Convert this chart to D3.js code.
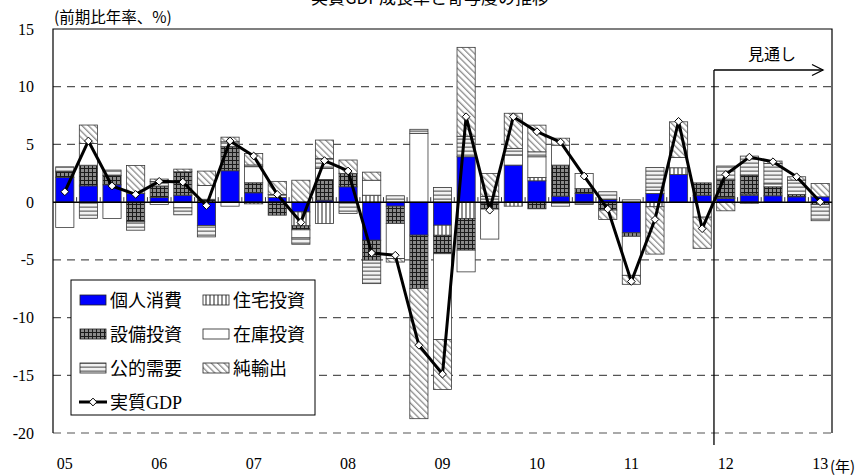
<!DOCTYPE html>
<html>
<head>
<meta charset="utf-8">
<script src="https://cdn.jsdelivr.net/npm/d3@7"></script>
<style>
  body { margin: 0; background: #fff; }
  text { font-family: "Liberation Serif", "Noto Sans CJK JP", serif; }
  .jp { font-family: "Noto Sans CJK JP", sans-serif; }
</style>
</head>
<body>
<svg id="chart" width="863" height="475"></svg>
<script>
// Quarterly contributions to real GDP growth (annualised q/q, %), 2005Q1 - 2013Q1
const quarters = d3.range(33).map(i => `${String(5 + Math.floor(i / 4)).padStart(2, "0")}Q${i % 4 + 1}`);
const yearLabels = ["05", "06", "07", "08", "09", "10", "11", "12", "13"];
const yTicks = [15, 10, 5, 0, -5, -10, -15, -20];

const personal  = [2.14,1.41,1.5,0.75,0.4,0.6,-2.03,2.72,0.81,0.4,-0.85,0.17,1.33,-3.3,-0.35,-2.86,-2.0,3.93,-0.1,3.21,1.85,0.52,0.75,0.23,-2.66,0.75,2.4,0.6,0.32,0.6,0.55,0.46,0.46];
const housing   = [0,0,0,0,0,0,0,0,-0.15,0,-1.2,-1.85,0,0.6,0,0,-0.87,-1.41,0,-0.35,0.29,0,0,0,0,-0.4,0.58,0,0.1,0.1,0,0,0];
const capex     = [0.5,1.79,0.8,-1.7,1.0,2.03,0.25,2.08,0.87,-1.13,-0.35,1.8,1.16,-1.73,-1.5,-4.62,-1.6,-2.75,-0.5,0,-0.58,2.69,0.43,-0.69,-0.3,0,0,1.07,1.5,1.64,0.78,0.2,-0.2];
const inventory = [-2.2,1.88,-1.42,0,-0.2,-0.5,1.2,-0.35,1.39,0,-0.7,0.95,0,1.3,-3.04,5.96,-7.43,-1.88,-2.6,0.87,1.79,1.73,1.3,0,-3.38,0.29,0.9,-1.3,0,0,0.25,0,0];
const publicDem = [0.42,-1.4,0.48,-0.73,0.4,-0.6,-0.98,0.43,0.15,0.26,-0.55,0.87,-0.98,-2.03,0.55,0.35,1.27,1.78,0.5,0.58,0.43,-0.35,-0.2,0.67,0.2,1.96,0,0,1.21,1.65,1.78,1.25,-1.41];
const netExport = [0,1.6,0,2.43,0.2,0.23,1.24,0.4,1.0,1.14,1.9,1.59,1.16,0.7,-0.3,-11.28,-4.34,7.7,1.99,3.04,2.31,0.6,0,-0.81,-0.78,-4.1,3.08,-2.7,-0.75,-0.1,0.2,0.29,1.16];
const gdp       = [0.9,5.3,1.4,0.67,1.8,1.74,-0.3,5.3,4.0,0.67,-1.75,3.6,2.7,-4.4,-4.6,-12.4,-14.9,7.4,-0.7,7.4,6.1,5.2,2.26,-0.6,-6.87,-1.5,7.0,-2.3,2.4,3.9,3.5,2.2,0.03];
const forecastStart = "12Q1";

const seriesNames = ["個人消費", "住宅投資", "設備投資", "在庫投資", "公的需要", "純輸出"];
const seriesKeys  = ["personal", "housing", "capex", "inventory", "publicDem", "netExport"];
const seriesData  = [personal, housing, capex, inventory, publicDem, netExport];

const table = quarters.map((q, i) => {
  const row = { q };
  seriesKeys.forEach((k, j) => row[k] = seriesData[j][i]);
  return row;
});

const svg = d3.select("#chart");
const plotLeft = 53, plotRight = 832, plotTop = 29, plotBottom = 433;

const x = d3.scaleBand().domain(quarters).range([plotLeft, plotRight]).paddingInner(0.23).paddingOuter(0.115);
const y = d3.scaleLinear().domain([-20, 15]).range([plotBottom, plotTop]);

// fill patterns for each component
const defs = svg.append("defs");
function pat(id, w, h, build, transform) {
  const p = defs.append("pattern").attr("id", id).attr("patternUnits", "userSpaceOnUse")
    .attr("width", w).attr("height", h);
  if (transform) p.attr("patternTransform", transform);
  build(p);
}
pat("p-housing", 4, 4, p => {
  p.append("rect").attr("width", 4).attr("height", 4).attr("fill", "#fff");
  p.append("rect").attr("x", 1.5).attr("width", 1).attr("height", 4).attr("fill", "#222");
});
pat("p-capex", 4, 4, p => {
  p.append("rect").attr("width", 4).attr("height", 4).attr("fill", "#8a8a8a");
  p.append("rect").attr("width", 4).attr("height", 1).attr("fill", "#1a1a1a");
  p.append("rect").attr("width", 1).attr("height", 4).attr("fill", "#1a1a1a");
});
pat("p-public", 4, 4, p => {
  p.append("rect").attr("width", 4).attr("height", 4).attr("fill", "#f2f2f2");
  p.append("rect").attr("y", 2.5).attr("width", 4).attr("height", 1.3).attr("fill", "#6e6e6e");
});
pat("p-net", 4.5, 4.5, p => {
  p.append("rect").attr("width", 4.5).attr("height", 4.5).attr("fill", "#fff");
  p.append("rect").attr("width", 1.3).attr("height", 4.5).attr("fill", "#8c8c8c");
}, "rotate(-45)");

const fills = {
  personal: "#0000ff",
  housing: "url(#p-housing)",
  capex: "url(#p-capex)",
  inventory: "#ffffff",
  publicDem: "url(#p-public)",
  netExport: "url(#p-net)"
};

// gridlines
svg.append("g").selectAll("line").data(yTicks.filter(v => v !== 0 && v !== 15)).join("line")
  .attr("x1", plotLeft).attr("x2", plotRight).attr("y1", d => y(d)).attr("y2", d => y(d))
  .attr("stroke", "#555").attr("stroke-width", 1.2).attr("stroke-dasharray", "8,6");

// stacked bars
const stack = d3.stack().keys(seriesKeys).offset(d3.stackOffsetDiverging);
const layers = stack(table);
svg.append("g").selectAll("g").data(layers).join("g")
  .attr("fill", d => fills[d.key])
  .selectAll("rect").data(d => d).join("rect")
  .attr("x", d => x(d.data.q))
  .attr("width", x.bandwidth())
  .attr("y", d => y(Math.max(d[0], d[1])))
  .attr("height", d => Math.abs(y(d[0]) - y(d[1])))
  .attr("stroke", "#3a3a3a").attr("stroke-width", 0.8);

// frame: top, left, right borders
svg.append("path")
  .attr("d", `M${plotLeft},${plotBottom}V${plotTop}H${plotRight}V${plotBottom}`)
  .attr("fill", "none").attr("stroke", "#000").attr("stroke-width", 1.2);

// zero line with category ticks
svg.append("line").attr("x1", plotLeft).attr("x2", plotRight).attr("y1", y(0)).attr("y2", y(0))
  .attr("stroke", "#000").attr("stroke-width", 1.5);
const halfGap = (x.step() - x.bandwidth()) / 2;
svg.append("g").selectAll("line").data(quarters.slice(1)).join("line")
  .attr("x1", d => x(d) - halfGap).attr("x2", d => x(d) - halfGap)
  .attr("y1", y(0) - 5).attr("y2", y(0))
  .attr("stroke", "#333").attr("stroke-width", 1);

// y-axis labels
svg.append("g").selectAll("text").data(yTicks).join("text")
  .attr("x", 34).attr("y", d => y(d) + 5.5)
  .attr("text-anchor", "end").attr("font-size", 16).text(d => d);

// x-axis year labels at the first quarter of each year
svg.append("g").selectAll("text").data(yearLabels).join("text")
  .attr("x", (d, i) => x(quarters[i * 4]) + x.bandwidth() / 2)
  .attr("y", 469).attr("text-anchor", "middle").attr("font-size", 16).text(d => d);
svg.append("text").attr("class", "jp").attr("x", 830).attr("y", 472)
  .attr("font-size", 15).text("(年)");

// unit label
svg.append("text").attr("class", "jp").attr("x", 54).attr("y", 23)
  .attr("font-size", 15.5).text("(前期比年率、%)");

// partially visible heading
svg.append("text").attr("class", "jp").attr("x", 430).attr("y", 4)
  .attr("text-anchor", "middle").attr("font-size", 17).text("実質GDP成長率と寄与度の推移");

// forecast divider and arrow
const xf = x(forecastStart) - halfGap;
svg.append("line").attr("x1", xf).attr("x2", xf).attr("y1", 70).attr("y2", 445)
  .attr("stroke", "#000").attr("stroke-width", 1.3);
svg.append("line").attr("x1", xf).attr("x2", 823).attr("y1", 70).attr("y2", 70)
  .attr("stroke", "#000").attr("stroke-width", 1.3);
svg.append("path").attr("d", "M812,64.5L823,70L812,75.5")
  .attr("fill", "none").attr("stroke", "#000").attr("stroke-width", 1.3);
svg.append("text").attr("class", "jp").attr("x", 772).attr("y", 60)
  .attr("text-anchor", "middle").attr("font-size", 16).text("見通し");

// GDP line with diamond markers
const cx = q => x(q) + x.bandwidth() / 2;
svg.append("path").datum(gdp)
  .attr("d", d3.line().x((d, i) => cx(quarters[i])).y(d => y(d)))
  .attr("fill", "none").attr("stroke", "#000").attr("stroke-width", 3).attr("stroke-linejoin", "round");
const diamond = d3.symbol().type(d3.symbolDiamond2).size(38);
svg.append("g").selectAll("path").data(gdp).join("path")
  .attr("transform", (d, i) => `translate(${cx(quarters[i])},${y(d)})`)
  .attr("d", diamond).attr("fill", "#fff").attr("stroke", "#000").attr("stroke-width", 1);

// legend
const lg = svg.append("g");
lg.append("rect").attr("x", 71).attr("y", 280).attr("width", 244).attr("height", 135)
  .attr("fill", "#fff").attr("stroke", "#000").attr("stroke-width", 1);
const rowsY = [300, 334, 368];
seriesKeys.forEach((k, j) => {
  const col = j % 2, row = Math.floor(j / 2);
  const sx = col === 0 ? 80 : 203;
  lg.append("rect").attr("x", sx).attr("y", rowsY[row] - 5).attr("width", 26).attr("height", 10)
    .attr("fill", fills[k]).attr("stroke", "#222").attr("stroke-width", 0.8);
  lg.append("text").attr("class", "jp").attr("x", sx + 30).attr("y", rowsY[row] + 6.5)
    .attr("font-size", 18).text(seriesNames[j]);
});
lg.append("line").attr("x1", 79).attr("x2", 107).attr("y1", 402).attr("y2", 402)
  .attr("stroke", "#000").attr("stroke-width", 3);
lg.append("path").attr("transform", "translate(93,402)").attr("d", diamond)
  .attr("fill", "#fff").attr("stroke", "#000");
lg.append("text").attr("x", 110).attr("y", 408.5).attr("font-size", 18)
  .text("実質GDP");
</script>
</body>
</html>
